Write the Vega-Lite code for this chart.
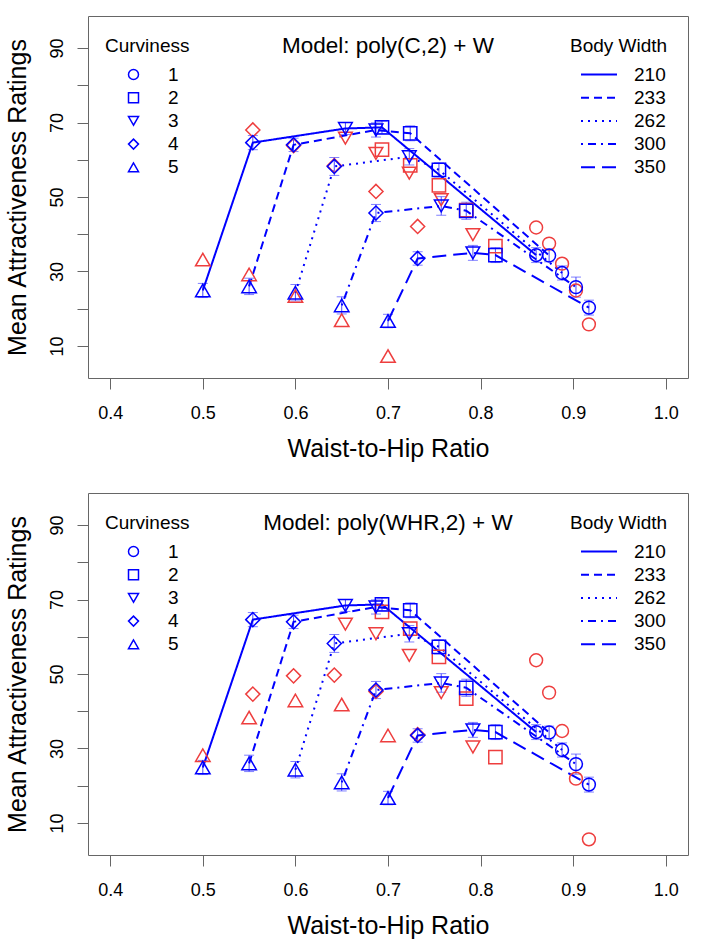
{
  "$schema": "https://vega.github.io/schema/vega-lite/v6.json",
  "autosize": {"type": "pad"},
  "padding": {"left": 4, "top": 15, "right": 5, "bottom": 5},
  "background": "white",
  "config": {
    "font": "Liberation Sans",
    "view": {"stroke": "#666", "strokeWidth": 1},
    "axis": {"domain": false, "grid": false, "tickColor": "#666", "tickSize": 11, "labelFontSize": 18, "labelColor": "black", "titleFontSize": 25, "titleFontWeight": "normal", "titleColor": "black"},
    "legend": {"padding": 0, "titleFontSize": 19, "titleFontWeight": "normal", "labelFontSize": 19, "titleColor": "black", "labelColor": "black", "symbolOpacity": 1}
  },
  "datasets": {
    "obs": [
      {"width": "210", "curv": "5", "whr": 0.500, "rating": 24.9, "lo": 23.0, "hi": 26.8},
      {"width": "210", "curv": "4", "whr": 0.554, "rating": 64.6, "lo": 62.7, "hi": 66.5},
      {"width": "210", "curv": "3", "whr": 0.654, "rating": 68.4, "lo": 66.8, "hi": 70.0},
      {"width": "210", "curv": "2", "whr": 0.6935, "rating": 68.7, "lo": 67.0, "hi": 70.4},
      {"width": "210", "curv": "1", "whr": 0.860, "rating": 34.4, "lo": 32.4, "hi": 36.4},
      {"width": "233", "curv": "5", "whr": 0.550, "rating": 26.0, "lo": 23.8, "hi": 28.2},
      {"width": "233", "curv": "4", "whr": 0.598, "rating": 64.0, "lo": 62.2, "hi": 65.8},
      {"width": "233", "curv": "3", "whr": 0.687, "rating": 68.0, "lo": 66.1, "hi": 69.9},
      {"width": "233", "curv": "2", "whr": 0.724, "rating": 67.1, "lo": 65.1, "hi": 69.1},
      {"width": "233", "curv": "1", "whr": 0.874, "rating": 34.3, "lo": 32.6, "hi": 36.0},
      {"width": "262", "curv": "5", "whr": 0.600, "rating": 24.3, "lo": 22.1, "hi": 26.5},
      {"width": "262", "curv": "4", "whr": 0.642, "rating": 58.2, "lo": 55.8, "hi": 60.6},
      {"width": "262", "curv": "3", "whr": 0.723, "rating": 60.8, "lo": 58.6, "hi": 63.0},
      {"width": "262", "curv": "2", "whr": 0.755, "rating": 57.3, "lo": 55.4, "hi": 59.2},
      {"width": "262", "curv": "1", "whr": 0.888, "rating": 29.6, "lo": 27.7, "hi": 31.5},
      {"width": "300", "curv": "5", "whr": 0.650, "rating": 20.9, "lo": 18.6, "hi": 23.2},
      {"width": "300", "curv": "4", "whr": 0.687, "rating": 45.7, "lo": 43.4, "hi": 48.0},
      {"width": "300", "curv": "3", "whr": 0.7575, "rating": 47.6, "lo": 45.1, "hi": 50.1},
      {"width": "300", "curv": "2", "whr": 0.7845, "rating": 46.3, "lo": 44.0, "hi": 48.6},
      {"width": "300", "curv": "1", "whr": 0.903, "rating": 25.8, "lo": 23.1, "hi": 28.5},
      {"width": "350", "curv": "5", "whr": 0.700, "rating": 16.7, "lo": 14.9, "hi": 18.5},
      {"width": "350", "curv": "4", "whr": 0.732, "rating": 33.5, "lo": 31.7, "hi": 35.3},
      {"width": "350", "curv": "3", "whr": 0.7917, "rating": 35.0, "lo": 33.0, "hi": 37.0},
      {"width": "350", "curv": "2", "whr": 0.816, "rating": 34.4, "lo": 32.4, "hi": 36.4},
      {"width": "350", "curv": "1", "whr": 0.917, "rating": 20.3, "lo": 18.3, "hi": 22.3}
    ],
    "pred": [
      {"model": "C", "width": "210", "curv": "5", "whr": 0.500, "rating": 33.2},
      {"model": "C", "width": "210", "curv": "4", "whr": 0.554, "rating": 68.0},
      {"model": "C", "width": "210", "curv": "3", "whr": 0.654, "rating": 65.8},
      {"model": "C", "width": "210", "curv": "2", "whr": 0.6935, "rating": 62.7},
      {"model": "C", "width": "210", "curv": "1", "whr": 0.860, "rating": 41.8},
      {"model": "C", "width": "233", "curv": "5", "whr": 0.550, "rating": 29.2},
      {"model": "C", "width": "233", "curv": "4", "whr": 0.598, "rating": 63.8},
      {"model": "C", "width": "233", "curv": "3", "whr": 0.687, "rating": 61.7},
      {"model": "C", "width": "233", "curv": "2", "whr": 0.724, "rating": 58.5},
      {"model": "C", "width": "233", "curv": "1", "whr": 0.874, "rating": 37.5},
      {"model": "C", "width": "262", "curv": "5", "whr": 0.600, "rating": 23.4},
      {"model": "C", "width": "262", "curv": "4", "whr": 0.642, "rating": 58.4},
      {"model": "C", "width": "262", "curv": "3", "whr": 0.723, "rating": 56.4},
      {"model": "C", "width": "262", "curv": "2", "whr": 0.755, "rating": 53.1},
      {"model": "C", "width": "262", "curv": "1", "whr": 0.888, "rating": 32.1},
      {"model": "C", "width": "300", "curv": "5", "whr": 0.650, "rating": 16.9},
      {"model": "C", "width": "300", "curv": "4", "whr": 0.687, "rating": 51.5},
      {"model": "C", "width": "300", "curv": "3", "whr": 0.7575, "rating": 49.3},
      {"model": "C", "width": "300", "curv": "2", "whr": 0.7845, "rating": 46.5},
      {"model": "C", "width": "300", "curv": "1", "whr": 0.903, "rating": 24.9},
      {"model": "C", "width": "350", "curv": "5", "whr": 0.700, "rating": 7.3},
      {"model": "C", "width": "350", "curv": "4", "whr": 0.732, "rating": 42.1},
      {"model": "C", "width": "350", "curv": "3", "whr": 0.7917, "rating": 39.9},
      {"model": "C", "width": "350", "curv": "2", "whr": 0.816, "rating": 36.8},
      {"model": "C", "width": "350", "curv": "1", "whr": 0.917, "rating": 15.8},
      {"model": "WHR", "width": "210", "curv": "5", "whr": 0.500, "rating": 28.2},
      {"model": "WHR", "width": "210", "curv": "4", "whr": 0.554, "rating": 44.6},
      {"model": "WHR", "width": "210", "curv": "3", "whr": 0.654, "rating": 63.4},
      {"model": "WHR", "width": "210", "curv": "2", "whr": 0.6935, "rating": 66.7},
      {"model": "WHR", "width": "210", "curv": "1", "whr": 0.860, "rating": 53.7},
      {"model": "WHR", "width": "233", "curv": "5", "whr": 0.550, "rating": 38.3},
      {"model": "WHR", "width": "233", "curv": "4", "whr": 0.598, "rating": 49.5},
      {"model": "WHR", "width": "233", "curv": "3", "whr": 0.687, "rating": 60.8},
      {"model": "WHR", "width": "233", "curv": "2", "whr": 0.724, "rating": 62.2},
      {"model": "WHR", "width": "233", "curv": "1", "whr": 0.874, "rating": 45.0},
      {"model": "WHR", "width": "262", "curv": "5", "whr": 0.600, "rating": 42.9},
      {"model": "WHR", "width": "262", "curv": "4", "whr": 0.642, "rating": 49.7},
      {"model": "WHR", "width": "262", "curv": "3", "whr": 0.723, "rating": 55.0},
      {"model": "WHR", "width": "262", "curv": "2", "whr": 0.755, "rating": 54.6},
      {"model": "WHR", "width": "262", "curv": "1", "whr": 0.888, "rating": 34.7},
      {"model": "WHR", "width": "300", "curv": "5", "whr": 0.650, "rating": 41.8},
      {"model": "WHR", "width": "300", "curv": "4", "whr": 0.687, "rating": 45.3},
      {"model": "WHR", "width": "300", "curv": "3", "whr": 0.7575, "rating": 45.0},
      {"model": "WHR", "width": "300", "curv": "2", "whr": 0.7845, "rating": 43.4},
      {"model": "WHR", "width": "300", "curv": "1", "whr": 0.903, "rating": 21.9},
      {"model": "WHR", "width": "350", "curv": "5", "whr": 0.700, "rating": 33.5},
      {"model": "WHR", "width": "350", "curv": "4", "whr": 0.732, "rating": 33.7},
      {"model": "WHR", "width": "350", "curv": "3", "whr": 0.7917, "rating": 30.4},
      {"model": "WHR", "width": "350", "curv": "2", "whr": 0.816, "rating": 27.7},
      {"model": "WHR", "width": "350", "curv": "1", "whr": 0.917, "rating": 5.6}
    ]
  },
  "vconcat": [
    {
      "width": 600, "height": 362,
      "title": {"text": "Model: poly(C,2) + W", "fontSize": 22.5, "fontWeight": "normal", "color": "black", "anchor": "middle", "frame": "group", "baseline": "top", "offset": -41},
      "layer": [
        {"data": {"name": "obs"},
         "mark": {"type": "errorbar", "color": "#4a4aff", "thickness": 1, "ticks": {"size": 10, "thickness": 1}},
         "encoding": {
           "x": {"field": "whr", "type": "quantitative", "title": "Waist-to-Hip Ratio", "scale": {"domain": [0.376, 1.024], "nice": false, "zero": false},
                 "axis": {"values": [0.4, 0.5, 0.6, 0.7, 0.8, 0.9, 1.0], "format": ".1f", "labelPadding": 15, "titlePadding": 14}},
           "y": {"field": "lo", "type": "quantitative", "title": "Mean Attractiveness Ratings", "scale": {"domain": [1.4, 98.6], "nice": false, "zero": false},
                 "axis": {"values": [10, 20, 30, 40, 50, 60, 70, 80, 90], "labelExpr": "datum.value % 20 == 10 ? datum.label : ''", "labelAngle": 270, "labelPadding": 11, "titlePadding": 18}},
           "y2": {"field": "hi"}
         }},
        {"data": {"name": "obs"},
         "mark": {"type": "line", "color": "blue", "strokeWidth": 2},
         "encoding": {
           "x": {"field": "whr", "type": "quantitative", "title": "Waist-to-Hip Ratio"},
           "y": {"field": "rating", "type": "quantitative", "title": "Mean Attractiveness Ratings"},
           "strokeDash": {"field": "width", "type": "nominal",
             "scale": {"domain": ["210", "233", "262", "300", "350"], "range": [[1, 0], [8, 5], [2, 5], [2, 5, 8, 5], [14, 7]]},
             "legend": {"title": "Body Width", "orient": "none", "legendX": 482, "legendY": 21, "symbolType": "stroke", "symbolSize": 1296, "symbolStrokeColor": "blue", "symbolStrokeWidth": 2, "symbolOffset": 10, "labelOffset": 16, "titlePadding": 9, "clipHeight": 19, "rowPadding": 3.2}}
         }},
        {"data": {"name": "pred"},
         "transform": [{"filter": "datum.model == 'C'"}],
         "mark": {"type": "point", "filled": false, "color": "#ee3e3e", "strokeWidth": 1.5, "opacity": 1},
         "encoding": {
           "x": {"field": "whr", "type": "quantitative", "title": "Waist-to-Hip Ratio"},
           "y": {"field": "rating", "type": "quantitative", "title": "Mean Attractiveness Ratings"},
           "shape": {"field": "curv", "type": "nominal", "scale": {"domain": ["1", "2", "3", "4", "5"], "range": ["circle", "square", "triangle-down", "diamond", "triangle-up"]},
             "legend": {"title": "Curviness", "orient": "none", "legendX": 17, "legendY": 21, "symbolSize": 100, "symbolStrokeColor": "blue", "symbolStrokeWidth": 1.5, "symbolFillColor": "transparent", "symbolOpacity": 1, "symbolOffset": 19, "labelOffset": 25, "titlePadding": 9, "clipHeight": 19, "rowPadding": 3.2}},
           "size": {"field": "curv", "type": "nominal", "scale": {"domain": ["5", "4", "3", "2", "1"], "range": [210, 165, 210, 90, 100]}, "legend": null}
         }},
        {"data": {"name": "obs"},
         "mark": {"type": "point", "filled": false, "color": "blue", "strokeWidth": 1.5, "opacity": 1},
         "encoding": {
           "x": {"field": "whr", "type": "quantitative", "title": "Waist-to-Hip Ratio"},
           "y": {"field": "rating", "type": "quantitative", "title": "Mean Attractiveness Ratings"},
           "shape": {"field": "curv", "type": "nominal", "scale": {"domain": ["1", "2", "3", "4", "5"], "range": ["circle", "square", "triangle-down", "diamond", "triangle-up"]},
             "legend": {"title": "Curviness", "orient": "none", "legendX": 17, "legendY": 21, "symbolSize": 100, "symbolStrokeColor": "blue", "symbolStrokeWidth": 1.5, "symbolFillColor": "transparent", "symbolOpacity": 1, "symbolOffset": 19, "labelOffset": 25, "titlePadding": 9, "clipHeight": 19, "rowPadding": 3.2}},
           "size": {"field": "curv", "type": "nominal", "scale": {"domain": ["5", "4", "3", "2", "1"], "range": [210, 165, 210, 90, 100]}, "legend": null}
         }}
      ]
    },
    {
      "width": 600, "height": 362,
      "title": {"text": "Model: poly(WHR,2) + W", "fontSize": 22.5, "fontWeight": "normal", "color": "black", "anchor": "middle", "frame": "group", "baseline": "top", "offset": -41},
      "layer": [
        {"data": {"name": "obs"},
         "mark": {"type": "errorbar", "color": "#4a4aff", "thickness": 1, "ticks": {"size": 10, "thickness": 1}},
         "encoding": {
           "x": {"field": "whr", "type": "quantitative", "title": "Waist-to-Hip Ratio", "scale": {"domain": [0.376, 1.024], "nice": false, "zero": false},
                 "axis": {"values": [0.4, 0.5, 0.6, 0.7, 0.8, 0.9, 1.0], "format": ".1f", "labelPadding": 15, "titlePadding": 14}},
           "y": {"field": "lo", "type": "quantitative", "title": "Mean Attractiveness Ratings", "scale": {"domain": [1.4, 98.6], "nice": false, "zero": false},
                 "axis": {"values": [10, 20, 30, 40, 50, 60, 70, 80, 90], "labelExpr": "datum.value % 20 == 10 ? datum.label : ''", "labelAngle": 270, "labelPadding": 11, "titlePadding": 18}},
           "y2": {"field": "hi"}
         }},
        {"data": {"name": "obs"},
         "mark": {"type": "line", "color": "blue", "strokeWidth": 2},
         "encoding": {
           "x": {"field": "whr", "type": "quantitative", "title": "Waist-to-Hip Ratio"},
           "y": {"field": "rating", "type": "quantitative", "title": "Mean Attractiveness Ratings"},
           "strokeDash": {"field": "width", "type": "nominal",
             "scale": {"domain": ["210", "233", "262", "300", "350"], "range": [[1, 0], [8, 5], [2, 5], [2, 5, 8, 5], [14, 7]]},
             "legend": {"title": "Body Width", "orient": "none", "legendX": 482, "legendY": 21, "symbolType": "stroke", "symbolSize": 1296, "symbolStrokeColor": "blue", "symbolStrokeWidth": 2, "symbolOffset": 10, "labelOffset": 16, "titlePadding": 9, "clipHeight": 19, "rowPadding": 3.2}}
         }},
        {"data": {"name": "pred"},
         "transform": [{"filter": "datum.model == 'WHR'"}],
         "mark": {"type": "point", "filled": false, "color": "#ee3e3e", "strokeWidth": 1.5, "opacity": 1},
         "encoding": {
           "x": {"field": "whr", "type": "quantitative", "title": "Waist-to-Hip Ratio"},
           "y": {"field": "rating", "type": "quantitative", "title": "Mean Attractiveness Ratings"},
           "shape": {"field": "curv", "type": "nominal", "scale": {"domain": ["1", "2", "3", "4", "5"], "range": ["circle", "square", "triangle-down", "diamond", "triangle-up"]},
             "legend": {"title": "Curviness", "orient": "none", "legendX": 17, "legendY": 21, "symbolSize": 100, "symbolStrokeColor": "blue", "symbolStrokeWidth": 1.5, "symbolFillColor": "transparent", "symbolOpacity": 1, "symbolOffset": 19, "labelOffset": 25, "titlePadding": 9, "clipHeight": 19, "rowPadding": 3.2}},
           "size": {"field": "curv", "type": "nominal", "scale": {"domain": ["5", "4", "3", "2", "1"], "range": [210, 165, 210, 90, 100]}, "legend": null}
         }},
        {"data": {"name": "obs"},
         "mark": {"type": "point", "filled": false, "color": "blue", "strokeWidth": 1.5, "opacity": 1},
         "encoding": {
           "x": {"field": "whr", "type": "quantitative", "title": "Waist-to-Hip Ratio"},
           "y": {"field": "rating", "type": "quantitative", "title": "Mean Attractiveness Ratings"},
           "shape": {"field": "curv", "type": "nominal", "scale": {"domain": ["1", "2", "3", "4", "5"], "range": ["circle", "square", "triangle-down", "diamond", "triangle-up"]},
             "legend": {"title": "Curviness", "orient": "none", "legendX": 17, "legendY": 21, "symbolSize": 100, "symbolStrokeColor": "blue", "symbolStrokeWidth": 1.5, "symbolFillColor": "transparent", "symbolOpacity": 1, "symbolOffset": 19, "labelOffset": 25, "titlePadding": 9, "clipHeight": 19, "rowPadding": 3.2}},
           "size": {"field": "curv", "type": "nominal", "scale": {"domain": ["5", "4", "3", "2", "1"], "range": [210, 165, 210, 90, 100]}, "legend": null}
         }}
      ]
    }
  ],
  "spacing": 115,
  "bounds": "flush",
  "resolve": {
    "scale": {"shape": "independent", "strokeDash": "independent", "size": "independent"},
    "legend": {"shape": "independent", "strokeDash": "independent", "size": "independent"}
  }
}
